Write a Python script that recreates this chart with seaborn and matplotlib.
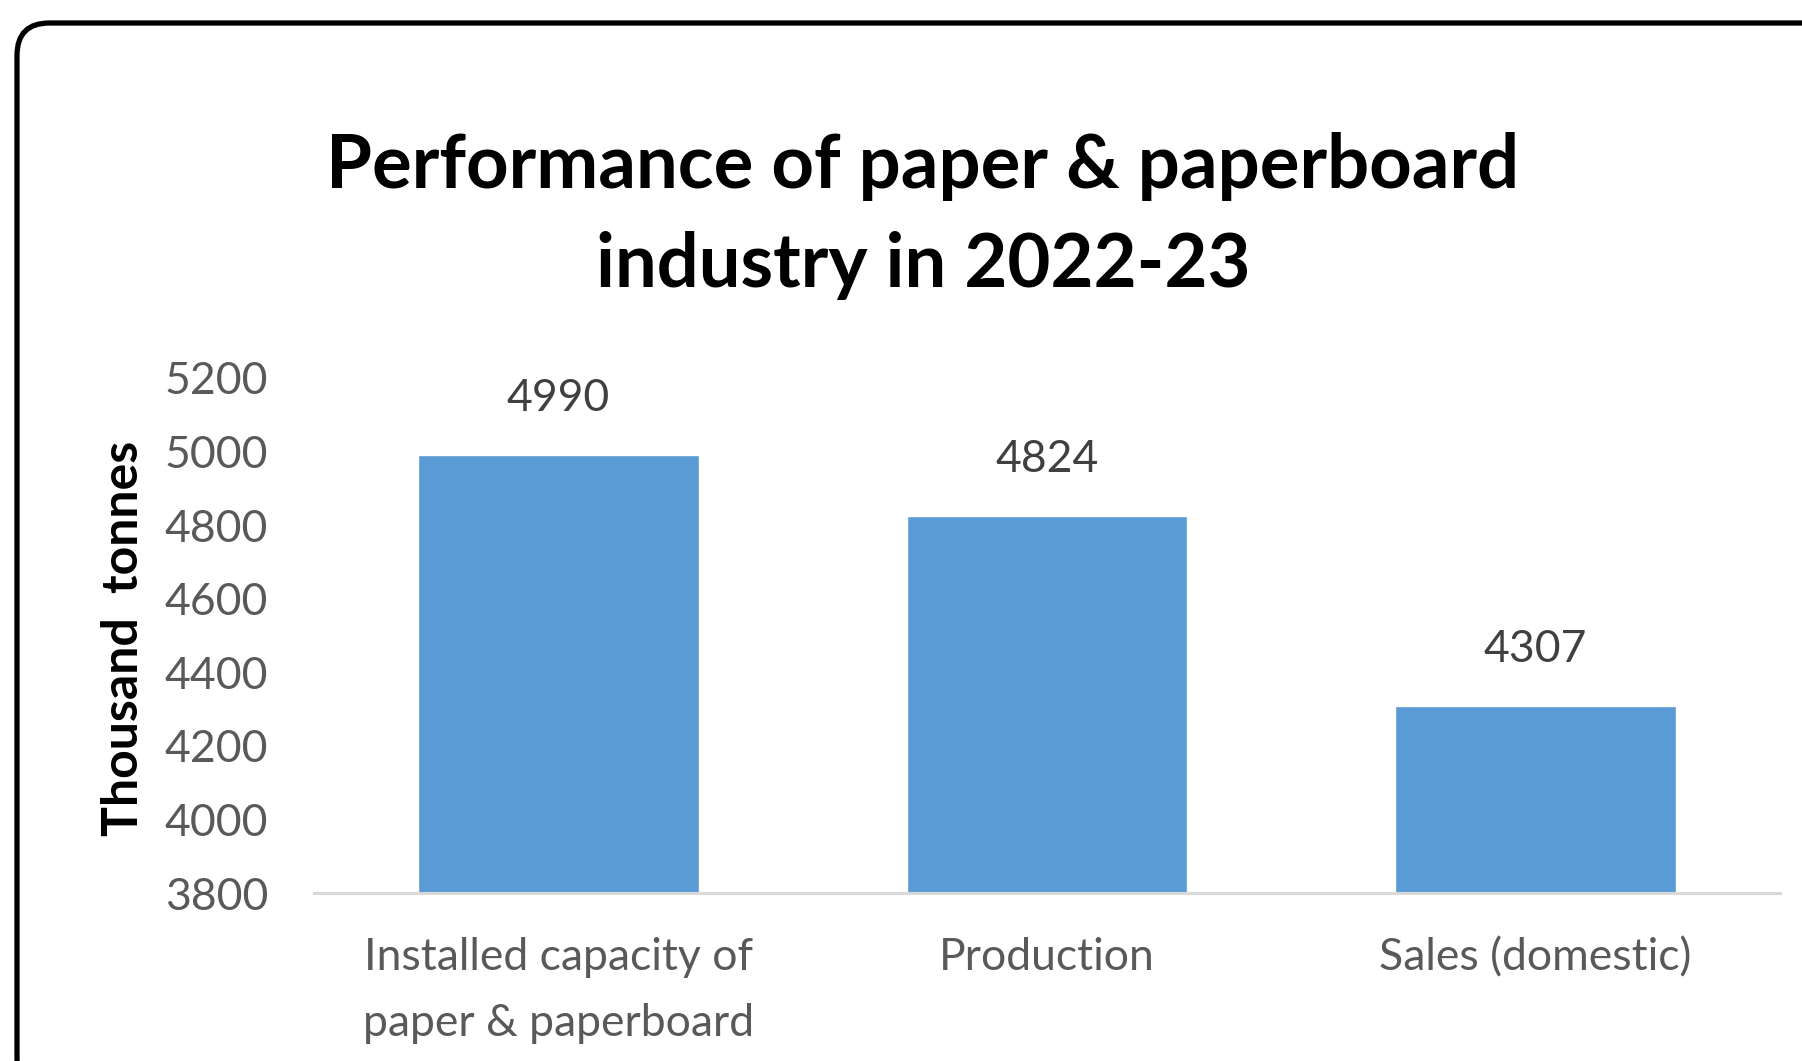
import matplotlib
matplotlib.use("Agg")
import matplotlib.pyplot as plt
import seaborn as sns
import pandas as pd
from matplotlib.patches import FancyBboxPatch

categories = ["Installed capacity of\npaper & paperboard", "Production", "Sales (domestic)"]
values = [4990, 4824, 4307]
yticks = [3800, 4000, 4200, 4400, 4600, 4800, 5000, 5200]

sns.set_theme(style="white")
plt.rcParams['font.family'] = ['Lato', 'DejaVu Sans']

W, H = 1802, 1061
fig = plt.figure(figsize=(W / 100, H / 100), dpi=100)
fig.patch.set_facecolor("white")

ax = fig.add_axes([314 / W, 1 - 893 / H, (1780 - 314) / W, (893 - 378) / H])
df = pd.DataFrame({"cat": categories, "val": values})
sns.barplot(data=df, x="cat", y="val", color="#5B9BD5", saturation=1, width=0.575, ax=ax)

ax.set_ylim(3800, 5200)
ax.set_xlim(-0.5, 2.5)
ax.set_yticks(yticks)
ax.set_yticklabels([str(t) for t in yticks], fontsize=32, color="#595959")
ax.tick_params(axis="y", length=0, pad=33)
ax.tick_params(axis="x", length=0, pad=32, labelsize=32, labelcolor="#595959")
for lab in ax.get_xticklabels():
    lab.set_linespacing(1.75)
ax.set_xlabel("")
ax.set_ylabel("")
for s in ["left", "right", "top"]:
    ax.spines[s].set_visible(False)
ax.spines["bottom"].set_color("#D9D9D9")
ax.spines["bottom"].set_linewidth(2.2)
ax.grid(False)

for p, v in zip(ax.patches, values):
    ax.annotate(str(v), (p.get_x() + p.get_width() / 2, p.get_height()),
                xytext=(0, 41), textcoords="offset points", ha="center", va="center",
                fontsize=32, color="#404040")

fig.text(923 / W, 1 - 216 / H, "Performance of paper & paperboard\nindustry in 2022-23",
         ha="center", va="center", fontsize=53.5, fontweight="bold", color="black",
         linespacing=1.55)

fig.text(124 / W, 1 - 638 / H, "Thousand  tonnes", rotation=90, ha="center", va="center",
         fontsize=36, fontweight="bold", color="black")

border = FancyBboxPatch((17 / W, -30 / H), (W + 40) / W, (H - 23 + 30) / H,
                        boxstyle="round,pad=0,rounding_size=0.018",
                        transform=fig.transFigure, facecolor="none", edgecolor="black",
                        linewidth=3.8, clip_on=False, mutation_aspect=W / H)
fig.patches.append(border)

fig.savefig("out.png", dpi=100)
